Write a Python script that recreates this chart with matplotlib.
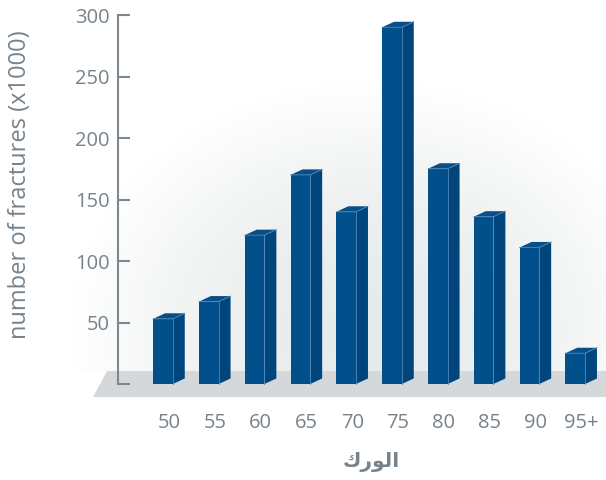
import numpy as np
import matplotlib.pyplot as plt
from matplotlib.patches import Polygon

# === データ ===
ages = ["50", "55", "60", "65", "70", "75", "80", "85", "90", "95+"]
fractures = [53, 67, 121, 170, 140, 290, 175, 136, 111, 25]
y_ticks = [0, 50, 100, 150, 200, 250, 300]
y_tick_labels = ["", "50", "100", "150", "200", "250", "300"]

# "الورك" in presentation forms, visual order (matplotlib does no Arabic shaping)
x_title = "\uFED9\uFEAD\uFEEE\uFEDF\uFE8D"
y_title = "number of fractures (x1000)"

# === スタイル ===
TEXT = "#76838c"
AXIS = "#7d8990"
FRONT = "#01508c"
SIDE = "#00467c"
TOP = "#0a4e88"
EDGE = "#4f87bb"
FLOOR = "#d5d8da"

BAR_W = 0.43      # front face width (category units)
DEPTH_X = 0.26    # side depth
DEPTH_Y = 4.5     # side rise (value units)

plt.rcParams["font.family"] = ["Open Sans", "DejaVu Sans"]

fig = plt.figure(figsize=(6.06, 4.80), dpi=100)

# soft radial glow behind the bars
bg = fig.add_axes([0, 0, 1, 1])
bg.axis("off")
yy, xx = np.mgrid[0:480, 0:606]
r = np.clip(np.hypot((xx - 370) / 300, (yy - 330) / 250), 0, 1)
c0 = np.array([0.905, 0.918, 0.918])
img = c0 + (1 - c0) * (r ** 1.6)[..., None]
img[yy > 371] = 1.0
bg.imshow(img, extent=(0, 1, 0, 1), origin="upper", aspect="auto")
bg.set_xlim(0, 1)
bg.set_ylim(0, 1)

ax = fig.add_axes([90 / 606, 80 / 480, 516 / 606, 385 / 480])
ax.patch.set_alpha(0)
ax.set_xlim(-1.594, 9.672)
ax.set_ylim(-13.0, 300)

x = np.arange(len(ages))

# floor
floor = Polygon([(-1.53, -10.6), (-1.22, 10.6), (10.5, 10.6), (10.5, -10.6)],
                closed=True, facecolor=FLOOR, edgecolor="none", zorder=1)
ax.add_patch(floor)

# front faces
left = x - BAR_W / 2
ax.bar(left, fractures, width=BAR_W, align="edge", color=FRONT,
       edgecolor="none", zorder=3)
for xl, v in zip(left, fractures):
    xr = xl + BAR_W
    side = Polygon([(xr, 0), (xr + DEPTH_X, DEPTH_Y), (xr + DEPTH_X, v + DEPTH_Y), (xr, v)],
                   closed=True, facecolor=SIDE, edgecolor="none", zorder=3)
    top = Polygon([(xl, v), (xr, v), (xr + DEPTH_X, v + DEPTH_Y), (xl + DEPTH_X, v + DEPTH_Y)],
                  closed=True, facecolor=TOP, edgecolor="none", zorder=3)
    ax.add_patch(side)
    ax.add_patch(top)
    ax.plot([xr, xr], [0, v], color=EDGE, lw=0.6, zorder=4)
    ax.plot([xl, xr, xr + DEPTH_X], [v, v, v + DEPTH_Y], color=EDGE, lw=0.6, zorder=4)

# axes
for s in ["top", "right", "bottom"]:
    ax.spines[s].set_visible(False)
ax.spines["left"].set_position(("data", -0.98))
ax.spines["left"].set_bounds(0, 300)
ax.spines["left"].set_color(AXIS)
ax.spines["left"].set_linewidth(1.5)
ax.set_yticks(y_ticks)
ax.set_yticklabels(y_tick_labels)
ax.tick_params(axis="y", direction="in", length=8.6, width=1.5, color=AXIS,
               labelcolor=TEXT, labelsize=14.5, pad=6)

ax.set_xticks(x + 0.13)
ax.set_xticklabels(ages)
ax.tick_params(axis="x", length=0, labelcolor=TEXT, labelsize=14.5, pad=9.5)

fig.text(20 / 606, 1 - 185 / 480, y_title, rotation=90, ha="center", va="center",
         color=TEXT, fontsize=17)
fig.text(371 / 606, 1 - 462 / 480, x_title, ha="center", va="center",
         color=TEXT, fontsize=14.5, fontweight="bold", family=["DejaVu Sans"])

fig.savefig("out.png", dpi=100)
